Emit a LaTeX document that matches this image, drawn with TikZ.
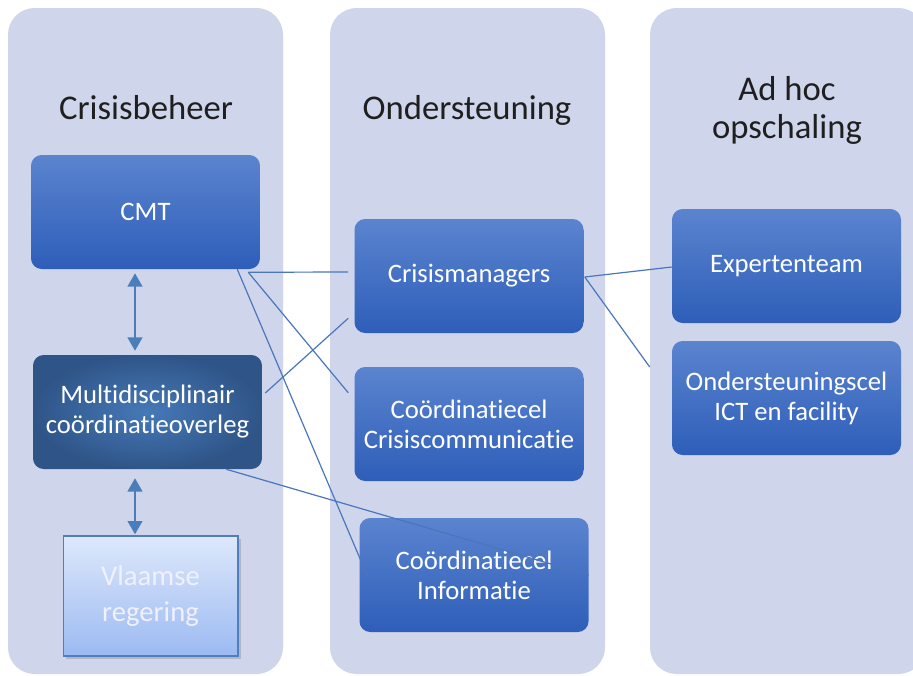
\documentclass[tikz,border=0pt]{standalone}
\usepackage{fontspec}
\setmainfont{Carlito}[Ligatures={NoCommon,NoRare,NoContextual}, RawFeature={-calt;-clig}]
\usetikzlibrary{arrows.meta,calc,shadows}

\definecolor{colfill}{HTML}{CFD5EA}
\definecolor{boxtop}{HTML}{5B84CF}
\definecolor{boxbot}{HTML}{2E5EB9}
\definecolor{darkin}{HTML}{4679B8}
\definecolor{darkout}{HTML}{2F5588}
\definecolor{lighttop}{HTML}{DDE8FB}
\definecolor{lightbot}{HTML}{9CBAF2}
\definecolor{lightline}{HTML}{4F7FC0}
\definecolor{linkcol}{HTML}{4A76BE}
\definecolor{arrowcol}{HTML}{4A7EBB}

\tikzset{
  colbox/.style={fill=colfill, rounded corners=20pt},
  heading/.style={text=black!88, font=\fontsize{26}{28.5}\selectfont, align=center},
  bluebox/.style={rounded corners=8pt, top color=boxtop, bottom color=boxbot,
    minimum width=171.75pt, minimum height=85.5pt, text=white, align=center,
    font=\fontsize{20}{22.5}\selectfont},
  darkbox/.style={bluebox, shading=radial, inner color=darkin, outer color=darkout},
  lightbox/.style={draw=lightline, line width=1pt, top color=lighttop, bottom color=lightbot,
    minimum width=131pt, minimum height=90pt, text=white!94!blue, align=center,
    font=\fontsize{21.5}{27}\selectfont,
    drop shadow={shadow xshift=2pt, shadow yshift=-2pt, opacity=0.35}},
  link/.style={draw=linkcol, line width=0.9pt},
  dblarrow/.style={draw=arrowcol, line width=1.6pt,
    {Triangle[width=11pt,length=10pt]}-{Triangle[width=11pt,length=10pt]}}
}

\begin{document}
\begin{tikzpicture}[x=0.75pt, y=-0.75pt]
		% Frame
		\clip (0,0) rectangle (913,675);
		\fill[white] (0,0) rectangle (913,675);
		
		% Columns
		\foreach \cx in {8,330,650}
		\fill[colbox] (\cx,8) rectangle ++(275,666);
		
		% Headings
		\node[heading, anchor=base] (h1) at (146,119) {Crisisbeheer};
		\node[heading, anchor=base] (h2) at (467,119) {Ondersteuning};
		\node[heading] (h3) at (787,110) {Ad hoc\\opschaling};
		
		% Crisisbeheer
		\node[bluebox] (cmt) at (145.5,212) {CMT};
		\node[darkbox] (mco) at (147.5,412) {Multidisciplinair\\coördinatieoverleg};
		\node[lightbox] (vr) at (150.5,596) {Vlaamse\\regering};
		
		% Ondersteuning
		\node[bluebox] (cm) at (469,276) {Crisismanagers};
		\node[bluebox] (ccc) at (469,424) {Coördinatiecel\\Crisiscommunicatie};
		\node[bluebox] (cci) at (474,575) {Coördinatiecel\\Informatie};
		
		% Ad hoc opschaling
		\node[bluebox] (exp) at (786.5,266) {Expertenteam};
		\node[bluebox] (ond) at (786.5,398) {Ondersteuningscel\\ICT en facility};
		
		% Arrows
		\draw[dblarrow] ($(cmt.south)+(-10.5,4)$) -- ($(mco.north)+(-12.5,-4)$);
		\draw[dblarrow] ($(mco.south)+(-12.5,9)$) -- ($(vr.north)+(-15.5,-1)$);
		
		% Links
		\draw[link] ($(cmt.south east)+(-12,3)$) -- ($(cm.west)+(-6,-4)$);
		\draw[link] ($(cmt.south east)+(-12,3)$) -- ($(ccc.north west)+(-6,26)$);
		\draw[link] ($(cmt.south east)+(-23,0)$) -- ($(cci.west)+(9,3)$);
		\draw[link] ($(mco.east)+(3,-19)$) -- ($(cm.south west)+(-6,-15)$);
		\draw[link] ($(mco.south east)+(-36,0)$) -- (cci.east);
		\draw[link] ($(cm.east)+(1,1)$) -- ($(exp.west)+(0,1)$);
		\draw[link] ($(cm.east)+(1,1)$) -- ($(ond.west)+(-22,-31)$);
\end{tikzpicture}
\end{document}
